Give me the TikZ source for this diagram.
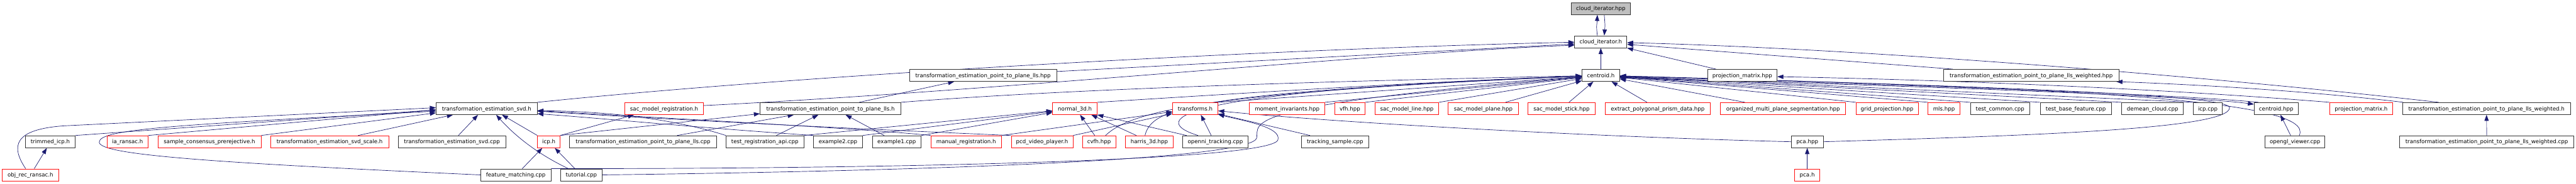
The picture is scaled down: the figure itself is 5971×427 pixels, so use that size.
\documentclass[tikz,border=0pt]{standalone}
\usepackage{fontspec}
\setmainfont{DejaVu Sans}
\usetikzlibrary{arrows.meta,backgrounds}
\definecolor{edgecol}{HTML}{191970}
\definecolor{blkb}{HTML}{333333}
\definecolor{redb}{HTML}{FF1010}
\definecolor{topfill}{HTML}{BFBFBF}
\newcommand\dxnode[6]{\node[#1, minimum width={#4pt-#3pt}] (#2) at ({(#3+#4)/2},{#5+14}) {#6};}
\begin{document}
\begin{tikzpicture}[x=1pt,y=-1pt,
 nb/.style={draw=blkb, line width=1.1pt, fill=white, inner sep=0pt, minimum height=28pt, text height=9.4pt, text depth=0pt, font=\fontsize{12.6}{15}\selectfont},
 nr/.style={nb, draw=redb},
 ng/.style={nb, fill=topfill},
 dep/.style={draw=edgecol, line width=1pt, -{Triangle[length=14pt,width=10pt]}}]
\useasboundingbox (0,0) rectangle (5971,427);
% row 0-2
\dxnode{ng}{hppIt}{3642}{3779}{6}{cloud\_iterator.hpp}
\dxnode{nb}{cih}{3650}{3771}{83}{cloud\_iterator.h}
\dxnode{nb}{llshpp}{2108}{2449}{161}{transformation\_estimation\_point\_to\_plane\_lls.hpp}
\dxnode{nb}{centh}{3667}{3754}{161}{centroid.h}
\dxnode{nb}{pmhpp}{3958}{4119}{161}{projection\_matrix.hpp}
\dxnode{nb}{llswhpp}{4505}{4911}{161}{transformation\_estimation\_point\_to\_plane\_lls\_weighted.hpp}
% row 3
\dxnode{nb}{svdh}{1011}{1245}{238}{transformation\_estimation\_svd.h}
\dxnode{nr}{sacreg}{1448}{1631}{238}{sac\_model\_registration.h}
\dxnode{nb}{llsh}{1762}{2088}{238}{transformation\_estimation\_point\_to\_plane\_lls.h}
\dxnode{nr}{n3d}{2440}{2543}{238}{normal\_3d.h}
\dxnode{nr}{tfh}{2718}{2823}{238}{transforms.h}
\dxnode{nr}{mom}{2896}{3071}{238}{moment\_invariants.hpp}
\dxnode{nr}{vfh}{3094}{3164}{238}{vfh.hpp}
\dxnode{nr}{sline}{3187}{3335}{238}{sac\_model\_line.hpp}
\dxnode{nr}{splane}{3357}{3519}{238}{sac\_model\_plane.hpp}
\dxnode{nr}{sstick}{3542}{3697}{238}{sac\_model\_stick.hpp}
\dxnode{nr}{epp}{3721}{3964}{238}{extract\_polygonal\_prism\_data.hpp}
\dxnode{nr}{omps}{3988}{4278}{238}{organized\_multi\_plane\_segmentation.hpp}
\dxnode{nr}{gridp}{4302}{4446}{238}{grid\_projection.hpp}
\dxnode{nr}{mls}{4469}{4543}{238}{mls.hpp}
\dxnode{nb}{tcommon}{4567}{4705}{238}{test\_common.cpp}
\dxnode{nb}{tbase}{4729}{4894}{238}{test\_base\_feature.cpp}
\dxnode{nb}{demean}{4918}{5061}{238}{demean\_cloud.cpp}
\dxnode{nb}{icpcpp}{5084}{5151}{238}{icp.cpp}
\dxnode{nb}{centhpp}{5225}{5327}{238}{centroid.hpp}
\dxnode{nr}{pmh}{5400}{5546}{238}{projection\_matrix.h}
\dxnode{nb}{llswh}{5569}{5958}{238}{transformation\_estimation\_point\_to\_plane\_lls\_weighted.h}
% row 4
\dxnode{nb}{trim}{59}{174}{315}{trimmed\_icp.h}
\dxnode{nr}{iaransac}{248}{343}{315}{ia\_ransac.h}
\dxnode{nr}{scp}{366}{605}{315}{sample\_consensus\_prerejective.h}
\dxnode{nr}{svdscale}{627}{901}{315}{transformation\_estimation\_svd\_scale.h}
\dxnode{nb}{svdcpp}{923}{1172}{315}{transformation\_estimation\_svd.cpp}
\dxnode{nr}{icph}{1246}{1298}{315}{icp.h}
\dxnode{nb}{llscpp}{1320}{1661}{315}{transformation\_estimation\_point\_to\_plane\_lls.cpp}
\dxnode{nb}{tra}{1683}{1863}{315}{test\_registration\_api.cpp}
\dxnode{nb}{ex2}{1886}{1999}{315}{example2.cpp}
\dxnode{nb}{ex1}{2022}{2135}{315}{example1.cpp}
\dxnode{nr}{manreg}{2158}{2321}{315}{manual\_registration.h}
\dxnode{nr}{pcdvp}{2344}{2487}{315}{pcd\_video\_player.h}
\dxnode{nr}{cvfh}{2509}{2586}{315}{cvfh.hpp}
\dxnode{nr}{harris}{2609}{2719}{315}{harris\_3d.hpp}
\dxnode{nb}{openni}{2741}{2893}{315}{openni\_tracking.cpp}
\dxnode{nb}{tracking}{3017}{3172}{315}{tracking\_sample.cpp}
\dxnode{nb}{pcahpp}{4152}{4226}{315}{pca.hpp}
\dxnode{nb}{ogl}{5250}{5389}{315}{opengl\_viewer.cpp}
\dxnode{nb}{llswcpp}{5562}{5966}{315}{transformation\_estimation\_point\_to\_plane\_lls\_weighted.cpp}
% row 5
\dxnode{nr}{objrec}{5}{136}{392}{obj\_rec\_ransac.h}
\dxnode{nb}{featm}{1114}{1277}{392}{feature\_matching.cpp}
\dxnode{nb}{tut}{1300}{1395}{392}{tutorial.cpp}
\dxnode{nr}{pcah}{4160}{4218}{392}{pca.h}

\begin{pgfonlayer}{background}
\fill[white] (0,0) rectangle (5971,427);
% top
\draw[dep] ([xshift=-8pt]cih.north) .. controls +(-3,-25) and +(-1,25) .. ([xshift=-8pt]hppIt.south);
\draw[dep] ([xshift=8pt]hppIt.south) .. controls +(2,25) and +(2,-25) .. ([xshift=8pt]cih.north);
\draw[dep] (centh) -- (cih);
\draw[dep] ([xshift=20pt]pmhpp.north west) -- (cih.south east);
\draw[dep] (svdh.north east) .. controls (1900,170) and (3000,112) .. ([yshift=-1pt]cih.west);
\draw[dep] ([yshift=7pt]sacreg.east) .. controls (2300,212) and (3200,122) .. ([yshift=-8pt]cih.west);
\draw[dep] ([yshift=9pt]llshpp.east) -- ([yshift=-5pt]cih.west);
\draw[dep] ([xshift=22pt]llswhpp.north west) -- ([yshift=-6pt]cih.east);
\draw[dep] ([xshift=84pt]llswh.north west) .. controls (5100,175) and (4300,112) .. ([yshift=-2pt]cih.east);
% row 2/3
\draw[dep] (llsh) -- (llshpp);
\draw[dep] (llsh.north east) .. controls (2500,205) and (3100,188) .. (centh);
\draw[dep] (pmh.north west) .. controls (5000,205) and (4500,185) .. ([yshift=-3pt]pmhpp.east);
\draw[dep] ([xshift=2pt]llswh.north west) .. controls (5300,205) and (5000,193) .. ([xshift=-6pt]llswhpp.south east);
\draw[dep] ([yshift=-6pt]centh.east) .. controls (4500,200) and (5100,225) .. ([yshift=10pt]centhpp.west);
\draw[dep] ([xshift=10pt]centhpp.north west) .. controls (5000,215) and (4300,195) .. (centh);
\draw[dep] (n3d.north east) .. controls (2900,215) and (3300,190) .. (centh);
\draw[dep] (tfh.north east) -- (centh);
\draw[dep] (mom.north east) -- (centh);
\draw[dep] (vfh.north east) -- (centh);
\draw[dep] (sline.north east) -- (centh);
\draw[dep] ([xshift=-30pt]splane.north east) -- (centh);
\draw[dep] (sstick) -- (centh);
\draw[dep] (epp) -- (centh);
\draw[dep] ([xshift=57pt]omps.north west) -- (centh);
\draw[dep] (gridp.north west) -- (centh);
\draw[dep] (mls.north west) -- (centh);
\draw[dep] (tcommon.north west) -- (centh);
\draw[dep] (tbase.north west) -- (centh);
\draw[dep] (demean.north west) -- (centh);
\draw[dep] (icpcpp.north west) -- (centh);
% lower rows to centroid.h
\draw[dep] ([xshift=15pt]cvfh.north) .. controls (2620,260) and (2780,215) .. (centh);
\draw[dep] ([xshift=-10pt]harris.north) .. controls (2670,250) and (2760,215) .. (centh);
\draw[dep] ([xshift=-40pt]openni.north) .. controls (2680,285) and (2650,215) .. (centh);
\draw[dep] (tut.east) .. controls (2300,395) and (2905,365) .. (2913,320) .. controls (2918,285) and (2860,245) .. (centh);
\draw[dep] ([xshift=10pt]ogl.north) .. controls (5370,230) and (4800,205) .. (centh);
\draw[dep] (pcahpp.east) .. controls (4700,315) and (5168,300) .. (5168,250) .. controls (5168,225) and (4800,205) .. (centh);
% others
\draw[dep] (pcahpp.west) .. controls (3700,318) and (3100,285) .. (tfh);
\draw[dep] (pcah) -- (pcahpp);
\draw[dep] (llswcpp) -- (llswh);
\draw[dep] ([xshift=-10pt]ogl.north) -- ([xshift=10pt]centhpp.south);
\draw[dep] ([xshift=20pt]tracking.north west) -- (tfh);
\draw[dep] ([xshift=67pt]openni.north west) -- ([xshift=13pt]tfh.south);
\draw[dep] ([xshift=10pt]openni.north west) -- (n3d.south east);
\draw[dep] ([xshift=-10pt]cvfh.north) -- ([xshift=12pt]n3d.south);
\draw[dep] ([xshift=-30pt]harris.north) -- ([xshift=38pt]n3d.south);
\draw[dep] (ex1.north east) -- (n3d);
\draw[dep] (tra.north east) -- (n3d);
\draw[dep] (ex2.north east) -- (n3d);
\draw[dep] (manreg.north east) -- (tfh);
\draw[dep] (pcdvp.north east) -- (tfh);
\draw[dep] ([xshift=28pt]ex1.north west) -- ([xshift=35pt]llsh.south);
\draw[dep] ([xshift=117pt]tra.north west) -- ([xshift=-28pt]llsh.south);
\draw[dep] ([xshift=250pt]llscpp.north west) -- ([xshift=-85pt]llsh.south);
\draw[dep] (icph.north east) -- ([yshift=-12pt]llsh.west);
\draw[dep] (icph.north east) -- ([xshift=22pt]sacreg.south west);
\draw[dep] (icph.north west) -- ([xshift=-82pt]svdh.south east);
\draw[dep] ([xshift=15pt]featm.north) -- ([xshift=-15pt]icph.south);
\draw[dep] ([xshift=-15pt]tut.north) -- ([xshift=14pt]icph.south);
\draw[dep] ([xshift=-30pt]tut.north) .. controls (1230,350) and (1180,300) .. ([xshift=22pt]svdh.south);
\draw[dep] ([xshift=15pt]svdcpp.north) -- ([xshift=-20pt]svdh.south);
\draw[dep] ([xshift=66pt]svdscale.north) -- ([xshift=-78pt]svdh.south);
\draw[dep] (scp.north east) -- ([yshift=-10pt]svdh.west);
\draw[dep] (iaransac.north east) -- ([yshift=-3pt]svdh.west);
\draw[dep] (trim.north east) -- ([yshift=-3pt]svdh.west);
\draw[dep] ([xshift=55pt]objrec.north west) .. controls (25,340) and (30,300) .. (150,292) -- ([yshift=2pt]svdh.west);
\draw[dep] ([xshift=75pt]objrec.north west) -- ([xshift=-8pt]trim.south);
\draw[dep] (featm.west) .. controls (500,378) and (230,360) .. (230,330) .. controls (230,300) and (400,290) .. (svdh);
\draw[dep] (featm.north east) .. controls (2100,392) and (2945,372) .. (2962,325) .. controls (2972,295) and (2880,280) .. (tfh);
\draw[dep] (tra.north west) .. controls (1560,275) and (1400,258) .. ([yshift=-5pt]svdh.east);
\draw[dep] (ex2.north west) .. controls (1600,295) and (1400,275) .. ([yshift=-12pt]svdh.east);
\draw[dep] (manreg.north west) .. controls (2000,298) and (1500,272) .. ([yshift=-5pt]svdh.east);
\draw[dep] (pcdvp.north west) .. controls (2000,300) and (1500,275) .. ([yshift=-6pt]svdh.east);
\end{pgfonlayer}
\end{tikzpicture}
\end{document}
